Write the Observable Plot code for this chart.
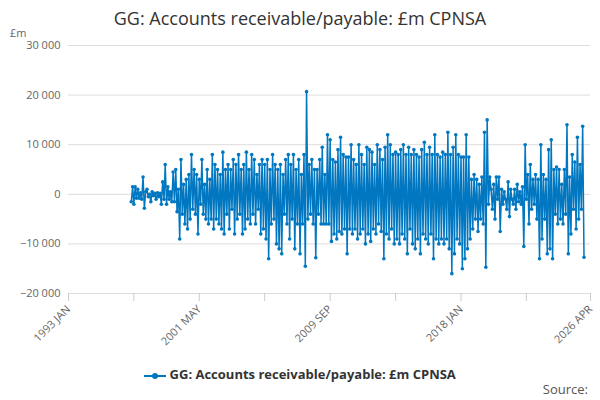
<!DOCTYPE html>
<html><head><meta charset="utf-8">
<script src="https://cdn.jsdelivr.net/npm/d3@7"></script>
<script src="https://cdn.jsdelivr.net/npm/@observablehq/plot@0.6"></script>
<style>
body{margin:0;font-family:"Open Sans",sans-serif;background:#fff;width:600px;height:400px;position:relative;overflow:hidden}
#title{position:absolute;top:6px;left:0;width:600px;text-align:center;font-size:18px;color:#333}
#unit{position:absolute;top:25px;left:10px;font-size:11px;color:#666}
#chart{position:absolute;top:36px;left:0}
#chart svg{overflow:visible}
#legend{position:absolute;top:365px;left:0;width:600px;text-align:center;font-size:13px;font-weight:bold;color:#333}
#src{position:absolute;top:380px;right:12px;font-size:13px;color:#555}
</style></head><body>
<div id="title">GG: Accounts receivable/payable: £m CPNSA</div>
<div id="unit">£m</div>
<div id="chart"></div>
<div id="legend"><svg width="22" height="10" style="vertical-align:middle"><line x1="0" y1="5" x2="22" y2="5" stroke="#0077c0" stroke-width="2"/><circle cx="11" cy="5" r="3" fill="#0077c0"/></svg> GG: Accounts receivable/payable: £m CPNSA</div>
<div id="src">Source:</div>
<script>
const seriesName = "GG: Accounts receivable/payable: £m CPNSA";
const startYear = 1997;
// monthly values, £m thousands per year (Jan..Dec)
const values = [
 [-1.5,1.5,-2,1.5,-0.8,1,-0.8,0.3,-1,3.5,-2.8,0.5],
 [1,-0.5,0,-1.5,0.5,-0.3,0.2,-1,0.3,-0.5,0.2,-2],
 [2.5,-1,6,-2,1.5,-1,0.5,-1.5,4.5,-1.5,5,-3.5],
 [1,-9,7,-4,2,-6,3,-7,4,-5,8,-3],
 [5,-4,4,-8,3,-2,7,-4,2,-5,5,-6],
 [3,-5,8,-7,6,-5,5,-6,4,-7,8.5,-8],
 [5,-4,6,-7,5,-3,7,-8,6,-5,8,-4],
 [5,-8,6,-7,8.5,-5,5,-6,8,-4,7,-6],
 [4,-3,6,-8,7,-7,6,-9,7,-13,5,-6],
 [8,-5,6,-10,5,-11,6,-12,4,-4,7,-6],
 [8,-9,6,-5,8,-11,5,-6,7,-12,4,-6],
 [8,-14.5,20.7,-5,6,-4,7,-6,5,-12.8,5,-4],
 [7,-6,9.5,-6,4,-6,12,-6,11,-9.5,7,-8],
 [6.5,-9,9,-7.5,11.5,-8,8,-7,7.5,-12,7.5,-7],
 [10,-8,7,-7,6,-9,10,-8,8,-7,6,-10],
 [9.5,-8,9,-9.5,8.5,-7,6,-8,10,-6,9,-7.5],
 [7,-13,9.5,-8,12,-9,10,-7,8,-10,8.5,-9],
 [8,-10,9,-8,10,-9,8,-12,9.5,-7,8,-10],
 [9,-11,8,-9,7.5,-12,9,-8,10.5,-9,8,-10],
 [9.5,-8,8,-13,12,-9,8,-10,7.5,-9,8.5,-10],
 [8,-9,12.5,-11,8,-16,9.5,-12,12,-9,8,-10],
 [7.5,-15,7.5,-13,12,-11,7.5,-9,3,-7,4,-5],
 [3,-7.5,2,-5,3.5,-6,12.5,-14.7,15,-2,3.5,1],
 [-3,2,-5,3.5,-1,3.5,-7.5,1,-2,0.5,-1,-3],
 [2.5,-4.5,1,-1,-2,1,-3,2,-1.5,0.5,-2,1.5],
 [-10.5,10,-1,4,-6,6,-3,3,-2,4,-5,3],
 [-13,10,-9,4,-5,3,-12,9,-11,11,-13,5],
 [-4,5.5,-6,5,-5,2,-6,5,-4,14,-12,3.5],
 [-8,8,-3,6.5,-7,11.5,-5,6,-3,13.7,-12.7]
];
const flat = values.flat();
const data = flat.map((v,i)=>({date:new Date(startYear, i, 1), value:v*1000}));
const xTicks = [[1993,0],[1997,2],[2001,4],[2005,6],[2009,8],[2013,10],[2018,0],[2022,2],[2026,3]].map(([y,m])=>new Date(y,m,1));
const xLabels = {"1993-0":"1993 JAN","2001-4":"2001 MAY","2009-8":"2009 SEP","2018-0":"2018 JAN","2026-3":"2026 APR"};
const yTicks = [-20000,-10000,0,10000,20000,30000];
const fmt = d=>d===0?"0":d3.format(",")(d).replace(/,/g," ");
const chart = Plot.plot({
  width:600, height:307, marginTop:9, marginBottom:50, marginLeft:68, marginRight:10,
  style:{fontFamily:"Open Sans, sans-serif", fontSize:"11px", color:"#666", overflow:"visible"},
  x:{type:"time", domain:[new Date(1993,0,1), new Date(2026,3,1)], label:null},
  y:{domain:[-20000,30000], label:null},
  marks:[
    Plot.gridY(yTicks,{stroke:"#ddd", strokeOpacity:1}),
    Plot.axisY(yTicks,{tickSize:0, tickFormat:fmt, tickPadding:8, fill:"#666"}),
    Plot.axisX(xTicks,{tickSize:8, stroke:"#ccc", tickRotate:-45, tickFormat:d=>xLabels[d.getFullYear()+"-"+d.getMonth()]||"", fill:"#666"}),
    Plot.line(data,{x:"date", y:"value", stroke:"#0077c0", strokeWidth:1.5}),
    Plot.dot(data,{x:"date", y:"value", fill:"#0077c0", r:1.8})
  ]
});
document.getElementById("chart").appendChild(chart);
</script></body></html>
